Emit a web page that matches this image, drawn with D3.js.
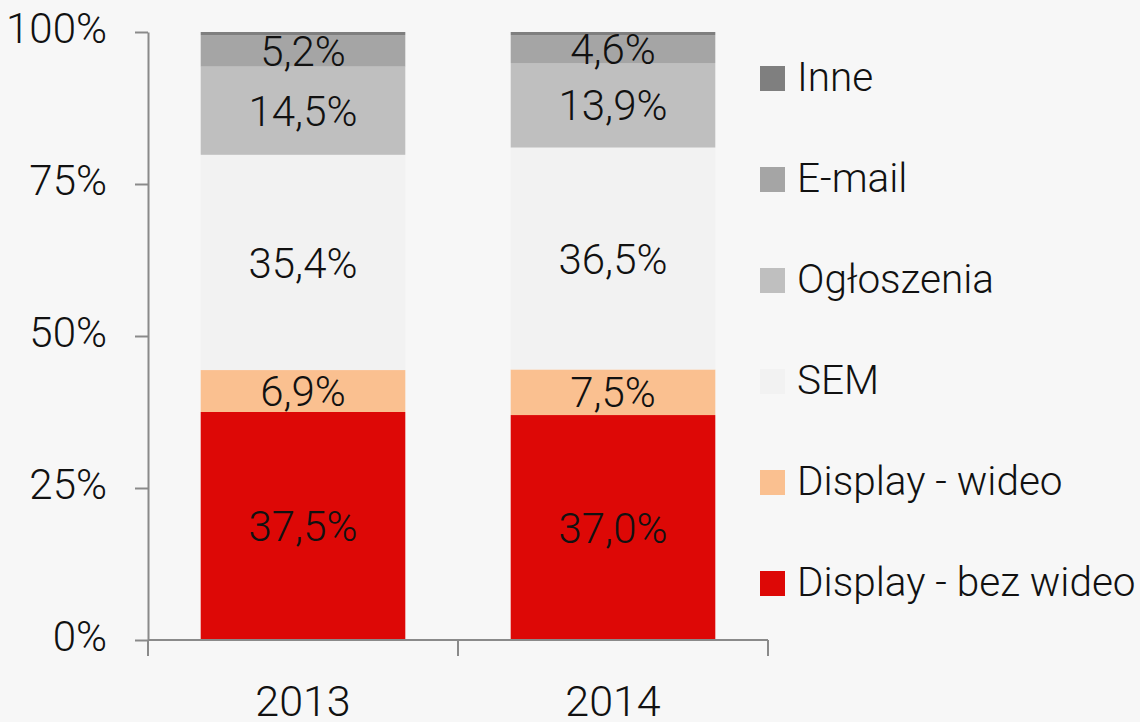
<!DOCTYPE html>
<html>
<head>
<meta charset="utf-8">
<script src="https://cdn.jsdelivr.net/npm/d3@7"></script>
<style>
  html, body { margin: 0; padding: 0; background: #f7f7f7; }
  svg { display: block; font-family: Roboto, sans-serif; font-weight: 300; }
</style>
</head>
<body>
<div id="chart"></div>
<script>
const years = ['2013', '2014'];
const seriesNames = ['Display - bez wideo', 'Display - wideo', 'SEM', 'Ogłoszenia', 'E-mail', 'Inne'];
const displayBezWideo = [37.5, 37.0];
const displayWideo = [6.9, 7.5];
const sem = [35.4, 36.5];
const ogloszenia = [14.5, 13.9];
const email = [5.2, 4.6];
const inne = [0.5, 0.5];
const seriesColors = ['#dd0806', '#fac090', '#f2f2f2', '#bfbfbf', '#a5a5a5', '#7f7f7f'];
const yTicks = [0, 25, 50, 75, 100];

const W = 1140, H = 722;
const MARGIN = { TOP: 32, BOTTOM: 82, LEFT: 148, RIGHT: 372 };
const width = W - MARGIN.LEFT - MARGIN.RIGHT;   // 620
const height = H - MARGIN.TOP - MARGIN.BOTTOM;  // 608

const allValues = [displayBezWideo, displayWideo, sem, ogloszenia, email, inne];
const table = years.map((yr, i) => {
    const row = { year: yr };
    seriesNames.forEach((s, j) => { row[s] = allValues[j][i]; });
    return row;
});

const svg = d3.select('#chart')
    .append('svg')
        .attr('width', W)
        .attr('height', H)
    .append('g')
        .attr('transform', `translate(${MARGIN.LEFT}, ${MARGIN.TOP})`);

const x = d3.scaleBand()
    .domain(years)
    .range([0, width])
    .paddingInner(0.34)
    .paddingOuter(0.17);

const y = d3.scaleLinear()
    .domain([0, 100])
    .range([height, 0]);

const color = d3.scaleOrdinal().domain(seriesNames).range(seriesColors);

const stacked = d3.stack().keys(seriesNames)(table);

// bars
const layers = svg.selectAll('g.layer')
    .data(stacked)
    .enter().append('g')
        .attr('class', 'layer')
        .attr('fill', d => color(d.key));

layers.selectAll('rect')
    .data(d => d)
    .enter().append('rect')
        .attr('x', d => x(d.data.year))
        .attr('y', d => y(d[1]))
        .attr('width', x.bandwidth())
        .attr('height', d => y(d[0]) - y(d[1]));

// value labels (skip the thin "Inne" slice)
stacked.filter(s => s.key !== 'Inne').forEach(s => {
    svg.append('g').selectAll('text')
        .data(s)
        .enter().append('text')
            .attr('x', d => x(d.data.year) + x.bandwidth() / 2)
            .attr('y', d => y((d[0] + d[1]) / 2))
            .attr('dy', '0.36em')
            .attr('text-anchor', 'middle')
            .attr('font-size', 42)
            .attr('fill', '#111')
            .text(d => d3.format('.1f')(d[1] - d[0]).replace('.', ',') + '%');
});

// y axis
const yAxisCall = d3.axisLeft(y)
    .tickValues(yTicks)
    .tickSize(13)
    .tickSizeOuter(0)
    .tickPadding(28)
    .tickFormat(d => d + '%');

const yAxisGroup = svg.append('g').call(yAxisCall);
yAxisGroup.select('.domain').attr('stroke', '#8a8a8a').attr('stroke-width', 2);
yAxisGroup.selectAll('.tick line').attr('stroke', '#8a8a8a').attr('stroke-width', 2);
yAxisGroup.selectAll('.tick text')
    .attr('font-family', 'Roboto, sans-serif')
    .attr('font-size', 42)
    .attr('fill', '#111')
    .attr('dy', '0.26em');

// x axis: baseline, boundary ticks, centered labels
const xAxisGroup = svg.append('g').attr('transform', `translate(0, ${height})`);
xAxisGroup.append('line')
    .attr('x1', 0).attr('x2', width)
    .attr('stroke', '#8a8a8a').attr('stroke-width', 2);
const bounds = d3.range(years.length + 1).map(i => x.range()[0] + i * x.step());
xAxisGroup.selectAll('line.tick')
    .data(bounds)
    .enter().append('line')
        .attr('class', 'tick')
        .attr('x1', d => d).attr('x2', d => d)
        .attr('y1', 0).attr('y2', 16)
        .attr('stroke', '#8a8a8a').attr('stroke-width', 2);
xAxisGroup.selectAll('text')
    .data(years)
    .enter().append('text')
        .attr('x', d => x(d) + x.bandwidth() / 2)
        .attr('y', 76)
        .attr('text-anchor', 'middle')
        .attr('font-size', 43)
        .attr('fill', '#111')
        .text(d => d);

// legend (top to bottom: reversed stack order)
const legend = svg.append('g')
    .attr('transform', `translate(${760 - MARGIN.LEFT}, ${78.5 - MARGIN.TOP})`);
const legendItems = legend.selectAll('g')
    .data(seriesNames.slice().reverse())
    .enter().append('g')
        .attr('transform', (d, i) => `translate(0, ${i * 101})`);
legendItems.append('rect')
    .attr('x', 0).attr('y', -12.5)
    .attr('width', 25).attr('height', 25)
    .attr('fill', d => color(d));
legendItems.append('text')
    .attr('x', 37)
    .attr('y', 12.5)
    .attr('font-size', 40.5)
    .attr('fill', '#111')
    .text(d => d);
</script>
</body>
</html>
